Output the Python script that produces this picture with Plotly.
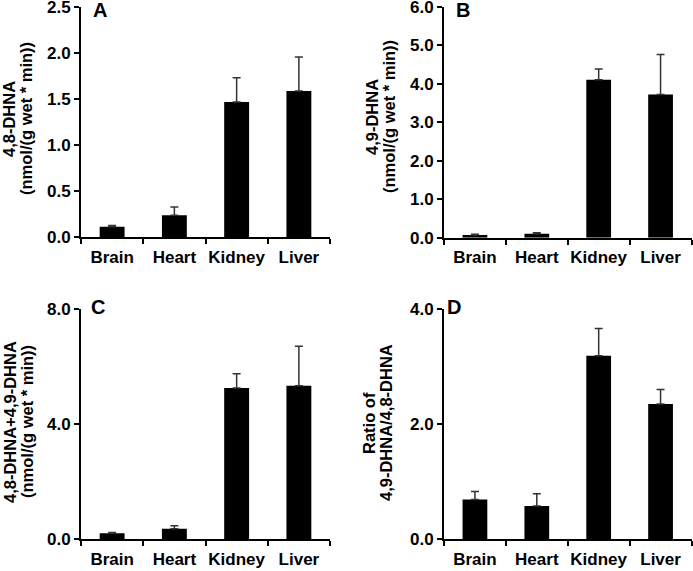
import plotly.graph_objects as go

tissues = ["Brain", "Heart", "Kidney", "Liver"]

# Panel A: 4,8-DHNA
a_vals = [0.115, 0.24, 1.47, 1.59]
a_err = [0.012, 0.09, 0.265, 0.37]
# Panel B: 4,9-DHNA
b_vals = [0.07, 0.10, 4.10, 3.72]
b_err = [0.02, 0.03, 0.28, 1.04]
# Panel C: 4,8-DHNA + 4,9-DHNA
c_vals = [0.21, 0.37, 5.26, 5.33]
c_err = [0.03, 0.10, 0.49, 1.38]
# Panel D: ratio 4,9-DHNA / 4,8-DHNA
d_vals = [0.69, 0.58, 3.19, 2.35]
d_err = [0.14, 0.21, 0.47, 0.25]

panels = [
    dict(vals=a_vals, err=a_err, rng=[0, 2.5], dtick=0.5, letter="A",
         title=["4,8-DHNA", "(nmol/(g wet * min))"],
         xd=[81/693, 330/693], yd=[1-237.3/571, 1-7.3/571],
         tx=[9, 26], ty=119, lx=100, ly=10),
    dict(vals=b_vals, err=b_err, rng=[0, 6.0], dtick=1.0, letter="B",
         title=["4,9-DHNA", "(nmol/(g wet * min))"],
         xd=[444/693, 691.5/693], yd=[1-237.7/571, 1-6.7/571],
         tx=[372, 389], ty=117, lx=463, ly=10),
    dict(vals=c_vals, err=c_err, rng=[0, 8.0], dtick=4.0, letter="C",
         title=["4,8-DHNA+4,9-DHNA", "(nmol/(g wet * min))"],
         xd=[81/693, 330/693], yd=[1-539.3/571, 1-309/571],
         tx=[10, 27], ty=422, lx=98, ly=307),
    dict(vals=d_vals, err=d_err, rng=[0, 4.0], dtick=2.0, letter="D",
         title=["Ratio of", "4,9-DHNA/4,8-DHNA"],
         xd=[444/693, 691.5/693], yd=[1-539.3/571, 1-309/571],
         tx=[369, 386], ty=423, lx=454, ly=307),
]

FONT = "Liberation Sans, Arial, sans-serif"
fig = go.Figure()
layout = dict(
    width=693, height=571,
    margin=dict(l=0, r=0, t=0, b=0, autoexpand=False),
    paper_bgcolor="white", plot_bgcolor="white",
    showlegend=False,
    bargap=0.6,
    font=dict(family=FONT, size=17, color="black", weight="bold"),
    annotations=[],
)

for i, p in enumerate(panels):
    n = "" if i == 0 else str(i + 1)
    fig.add_trace(go.Bar(
        x=tissues, y=p["vals"],
        marker=dict(color="black", line=dict(width=0)),
        error_y=dict(type="data", symmetric=False, array=p["err"],
                     arrayminus=[0] * len(p["err"]),
                     color="#333333", thickness=1.5, width=4),
        xaxis="x" + n, yaxis="y" + n,
    ))
    layout["xaxis" + n] = dict(
        domain=p["xd"], anchor="y" + n, automargin=False, tickangle=0,
        showline=True, linecolor="black", linewidth=2,
        ticks="outside", tickson="boundaries", ticklen=5, tickwidth=2,
        tickcolor="black", showgrid=False, ticklabeloverflow="allow",
        ticklabelstandoff=3,
        tickfont=dict(family=FONT, size=17, color="black", weight="bold"),
    )
    layout["yaxis" + n] = dict(
        domain=p["yd"], anchor="x" + n, range=p["rng"], dtick=p["dtick"],
        tickformat=".1f", automargin=False, ticklabeloverflow="allow",
        showline=True, linecolor="black", linewidth=2,
        ticks="outside", ticklen=5, tickwidth=2, tickcolor="black",
        showgrid=False, zeroline=False,
        tickfont=dict(family=FONT, size=17, color="black", weight="bold"),
    )
    for line, tx in zip(p["title"], p["tx"]):
        layout["annotations"].append(dict(
            text=line, textangle=-90, showarrow=False,
            xref="paper", yref="paper",
            x=tx / 693, y=1 - p["ty"] / 571,
            xanchor="center", yanchor="middle",
            font=dict(family=FONT, size=16.5, color="black", weight="bold"),
        ))
    layout["annotations"].append(dict(
        text=p["letter"], showarrow=False,
        xref="paper", yref="paper",
        x=p["lx"] / 693, y=1 - p["ly"] / 571,
        xanchor="center", yanchor="middle",
        font=dict(family=FONT, size=20, color="black", weight="bold"),
    ))

fig.update_layout(**layout)
fig.write_html("out.html",
               config={"displayModeBar": False},
               post_script="document.body.style.margin='0px';"
                           "document.body.style.overflow='hidden';")
